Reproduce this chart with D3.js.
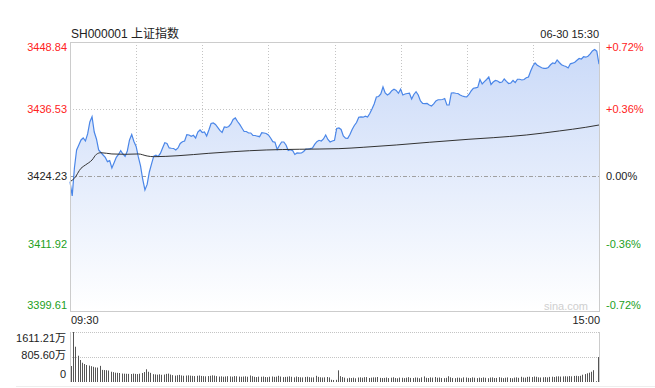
<!DOCTYPE html>
<html>
<head>
<meta charset="utf-8">
<script src="https://cdn.jsdelivr.net/npm/d3@7"></script>
<style>
  body { margin: 0; background: #fff; }
  svg { display: block; font-family: Arial, "Liberation Sans", "Noto Sans CJK SC", sans-serif; }
</style>
</head>
<body>
<div id="chart"></div>
<script>
////////////////////////////////////////////////////////////////////
////////////////////////////  Data  ////////////////////////////////
const symbol = "SH000001 上证指数";
const stamp = "06-30 15:30";
const preClose = 3424.23;
const priceTicks = [3448.84, 3436.53, 3424.23, 3411.92, 3399.61];
const pctTicks = ["+0.72%", "+0.36%", "0.00%", "-0.36%", "-0.72%"];
const timeLabels = ["09:30", "15:00"];
const volTicks = [1611.21, 805.6, 0];
const volTickLabels = ["1611.21万", "805.60万", "0"];

// one price per minute, 09:30 .. 11:30 / 13:00 .. 15:00 (241 points)
const prices = [
  3423.28, 3420.66, 3425.78, 3429.08, 3429.99, 3430.91, 3431.27, 3430.72, 3432.01, 3434.20,
  3435.17, 3432.37, 3431.09, 3429.08, 3428.62, 3428.16, 3427.71, 3426.94, 3427.12, 3425.78,
  3426.75, 3427.74, 3428.26, 3428.95, 3428.35, 3427.89, 3428.90, 3430.91, 3431.92, 3430.63,
  3429.72, 3427.80, 3426.15, 3423.68, 3421.76, 3422.77, 3425.05, 3426.52, 3427.94, 3428.11,
  3427.89, 3428.44, 3429.45, 3430.40, 3430.27, 3429.45, 3429.39, 3429.35, 3429.08, 3429.45,
  3430.27, 3430.60, 3430.72, 3431.88, 3431.82, 3431.59, 3431.77, 3431.27, 3432.37, 3432.74,
  3432.28, 3432.37, 3431.64, 3432.74, 3433.93, 3434.02, 3433.75, 3433.20, 3432.65, 3432.28,
  3433.29, 3433.20, 3433.38, 3433.84, 3434.66, 3434.94, 3434.29, 3433.75, 3433.11, 3432.46,
  3432.46, 3432.19, 3432.19, 3431.73, 3431.73, 3431.60, 3431.51, 3432.25, 3432.19, 3432.10,
  3431.82, 3431.27, 3430.60, 3430.49, 3429.17, 3429.90, 3430.54, 3430.54, 3429.99, 3428.99,
  3429.12, 3428.97, 3428.26, 3428.53, 3428.49, 3428.53, 3428.80, 3429.23, 3429.26, 3429.32,
  3429.45, 3430.09, 3430.60, 3430.85, 3430.72, 3431.09, 3431.82, 3431.00, 3430.54, 3430.72,
  3430.85, 3433.01, 3433.11, 3432.83, 3431.64, 3431.24, 3431.22, 3431.92, 3432.83, 3433.56,
  3434.11, 3435.08, 3435.15, 3435.08, 3435.26, 3435.12, 3435.76, 3436.58, 3437.50, 3438.78,
  3438.87, 3439.33, 3440.61, 3439.51, 3439.14, 3439.42, 3439.93, 3440.19, 3439.97, 3439.46,
  3440.19, 3439.14, 3439.33, 3439.42, 3439.46, 3438.41, 3439.24, 3439.75, 3439.14, 3438.05,
  3437.59, 3437.55, 3437.59, 3437.31, 3437.13, 3437.50, 3438.05, 3438.27, 3438.27, 3438.32,
  3438.50, 3437.31, 3437.31, 3439.51, 3439.55, 3439.46, 3439.42, 3439.14, 3438.96, 3438.83,
  3438.78, 3439.24, 3439.88, 3440.37, 3440.46, 3440.54, 3441.98, 3441.16, 3441.58, 3441.98,
  3442.44, 3441.07, 3441.52, 3441.80, 3441.71, 3441.43, 3441.52, 3442.07, 3441.62, 3441.25,
  3441.34, 3441.80, 3441.40, 3442.02, 3442.02, 3441.89, 3441.98, 3442.31, 3442.44, 3443.54,
  3444.45, 3445.00, 3444.60, 3444.34, 3444.12, 3444.03, 3444.03, 3444.18, 3444.67, 3445.00,
  3444.89, 3445.55, 3445.09, 3444.69, 3444.49, 3444.36, 3444.09, 3444.85, 3444.96, 3445.13,
  3445.49, 3445.82, 3445.73, 3446.14, 3446.06, 3446.23, 3446.65, 3447.20, 3447.45, 3447.16,
  3444.80
];

// average price line, read at sample minutes
const avgMinutes = [0, 2, 5, 7, 10, 12, 14, 19, 25, 31, 35, 38, 49, 63, 74, 89, 104, 122, 133, 148, 163, 181, 192, 207, 222, 234, 240];
const avgPrices = [3423.28, 3423.90, 3425.73, 3426.33, 3427.25, 3428.29, 3428.58, 3428.35, 3428.29, 3428.35, 3427.98, 3427.85, 3428.03, 3428.47, 3428.77, 3429.08, 3429.21, 3429.32, 3429.57, 3429.99, 3430.49, 3431.04, 3431.33, 3431.82, 3432.56, 3433.23, 3433.65];

// volume per minute, 万
const volumes = [
  515, 1611.21, 1137, 847, 709, 620, 580, 548, 530, 510,
  490, 470, 465, 520, 390, 385, 380, 370, 330, 318,
  300, 296, 290, 272, 268, 265, 262, 258, 270, 262,
  255, 268, 290, 320, 410, 330, 295, 252, 245, 236,
  248, 232, 240, 262, 270, 240, 222, 205, 218, 230,
  212, 200, 208, 214, 205, 198, 190, 200, 210, 196,
  188, 182, 190, 200, 215, 205, 188, 176, 182, 170,
  178, 186, 180, 172, 190, 184, 175, 168, 176, 182,
  170, 210, 188, 166, 160, 172, 168, 175, 162, 156,
  170, 178, 165, 172, 200, 176, 158, 164, 170, 182,
  168, 150, 175, 160, 152, 148, 162, 170, 155, 146,
  150, 200, 165, 152, 145, 150, 160, 148, 72, 65,
  70, 376, 188, 160, 140, 118, 135, 128, 140, 120,
  145, 150, 138, 155, 158, 130, 140, 150, 148, 160,
  135, 128, 132, 145, 126, 138, 152, 130, 120, 142,
  136, 125, 140, 155, 132, 128, 145, 140, 120, 150,
  180, 135, 128, 148, 140, 160, 138, 145, 130, 125,
  135, 185, 150, 130, 125, 140, 138, 120, 150, 145,
  132, 128, 150, 138, 125, 140, 130, 148, 135, 122,
  145, 150, 128, 132, 155, 140, 125, 138, 148, 130,
  120, 142, 150, 135, 168, 145, 140, 165, 170, 160,
  175, 168, 150, 145, 152, 158, 148, 165, 170, 160,
  178, 182, 175, 180, 185, 178, 190, 182, 195, 200,
  188, 200, 235, 255, 280, 300, 330, 380, 25, 0,
  805
];

////////////////////////////////////////////////////////////////////
////////////////////////////  Init  ////////////////////////////////
const width = 655;
const height = 388;
const plot = { left: 70, right: 599, top: 42, bottom: 311 };
const vol = { top: 332, bottom: 382 };

const red = "#f22";
const green = "#22a022";
const gridColor = "#c4c4c4";

const svg = d3.select("#chart").append("svg")
  .attr("width", width)
  .attr("height", height);

// scales
const xScale = d3.scaleLinear().domain([0, 240]).range([plot.left, plot.right]);
const yScale = d3.scaleLinear()
  .domain([priceTicks[4], priceTicks[0]])
  .range([plot.bottom, plot.top]);
const vScale = d3.scaleLinear().domain([0, volTicks[0]]).range([vol.bottom, vol.top]);

const colorOf = (v) => (v > preClose ? red : v < preClose ? green : "#222");

// gradient for the area
const grad = svg.append("defs").append("linearGradient")
  .attr("id", "fillGrad")
  .attr("gradientUnits", "userSpaceOnUse")
  .attr("x1", 0).attr("x2", 0)
  .attr("y1", plot.top).attr("y2", plot.bottom);
grad.append("stop").attr("offset", "0%").attr("stop-color", "#c9d9f8");
grad.append("stop").attr("offset", "100%").attr("stop-color", "#ffffff");

////////////////////////////////////////////////////////////////////
////////////////////////////  Grid  ////////////////////////////////
// vertical grid every 30 minutes
const halfHours = d3.range(30, 240, 30);
svg.append("g").selectAll("line")
  .data(halfHours)
  .join("line")
  .attr("x1", (d) => Math.round(xScale(d)) + 0.5)
  .attr("x2", (d) => Math.round(xScale(d)) + 0.5)
  .attr("y1", plot.top)
  .attr("y2", plot.bottom)
  .attr("stroke", gridColor)
  .attr("stroke-dasharray", "1,2");

// horizontal grid
svg.append("g").selectAll("line")
  .data([priceTicks[1], priceTicks[3]])
  .join("line")
  .attr("x1", plot.left)
  .attr("x2", plot.right)
  .attr("y1", (d) => Math.round(yScale(d)) + 0.5)
  .attr("y2", (d) => Math.round(yScale(d)) + 0.5)
  .attr("stroke", gridColor)
  .attr("stroke-dasharray", "1,2");

////////////////////////////////////////////////////////////////////
////////////////////////////  Marks  ///////////////////////////////
const area = d3.area()
  .x((d, i) => xScale(i))
  .y0(plot.bottom)
  .y1((d) => yScale(d));

const line = d3.line()
  .x((d, i) => xScale(i))
  .y((d) => yScale(d));

svg.append("path")
  .datum(prices)
  .attr("fill", "url(#fillGrad)")
  .attr("d", area);

// pre-close line above the fill
svg.append("line")
  .attr("x1", plot.left)
  .attr("x2", plot.right)
  .attr("y1", Math.round(yScale(preClose)) + 0.5)
  .attr("y2", Math.round(yScale(preClose)) + 0.5)
  .attr("stroke", "#a0a0a0")
  .attr("stroke-dasharray", "4,2,1,2");

svg.append("path")
  .datum(prices)
  .attr("fill", "none")
  .attr("stroke", "#4a86e8")
  .attr("stroke-width", 1.2)
  .attr("d", line);

const avgLine = d3.line()
  .curve(d3.curveMonotoneX)
  .x((d, i) => xScale(avgMinutes[i]))
  .y((d) => yScale(d));

svg.append("path")
  .datum(avgPrices)
  .attr("fill", "none")
  .attr("stroke", "#333")
  .attr("stroke-width", 1)
  .attr("d", avgLine);

// frame
svg.append("rect")
  .attr("x", plot.left + 0.5)
  .attr("y", plot.top + 0.5)
  .attr("width", plot.right - plot.left)
  .attr("height", plot.bottom - plot.top)
  .attr("fill", "none")
  .attr("stroke", "#ccc");

////////////////////////////////////////////////////////////////////
////////////////////////////  Labels  //////////////////////////////
svg.append("text")
  .attr("x", plot.left + 1)
  .attr("y", 38)
  .attr("font-size", 12)
  .attr("fill", "#222")
  .text(symbol);

svg.append("text")
  .attr("x", plot.right)
  .attr("y", 38)
  .attr("text-anchor", "end")
  .attr("font-size", 11)
  .attr("fill", "#222")
  .text(stamp);

const labelY = (v) => Math.min(Math.max(yScale(v), plot.top + 5), plot.bottom - 5.5);

svg.append("g").selectAll("text")
  .data(priceTicks)
  .join("text")
  .attr("x", plot.left - 3)
  .attr("y", (d) => labelY(d))
  .attr("dy", "0.35em")
  .attr("text-anchor", "end")
  .attr("font-size", 11)
  .attr("fill", colorOf)
  .text((d) => d.toFixed(2));

svg.append("g").selectAll("text")
  .data(priceTicks)
  .join("text")
  .attr("x", plot.right + 7)
  .attr("y", (d) => labelY(d))
  .attr("dy", "0.35em")
  .attr("font-size", 11)
  .attr("fill", colorOf)
  .text((d, i) => pctTicks[i]);

svg.append("text")
  .attr("x", plot.left + 1)
  .attr("y", plot.bottom + 9)
  .attr("dy", "0.35em")
  .attr("font-size", 11)
  .attr("fill", "#222")
  .text(timeLabels[0]);

svg.append("text")
  .attr("x", plot.right + 1)
  .attr("y", plot.bottom + 9)
  .attr("dy", "0.35em")
  .attr("text-anchor", "end")
  .attr("font-size", 11)
  .attr("fill", "#222")
  .text(timeLabels[1]);

svg.append("text")
  .attr("x", plot.right - 11)
  .attr("y", plot.bottom - 5)
  .attr("dy", "0.35em")
  .attr("text-anchor", "end")
  .attr("font-size", 11)
  .attr("fill", "#cfcfcf")
  .text("sina.com");

////////////////////////////////////////////////////////////////////
////////////////////////////  Volume  //////////////////////////////
svg.append("g").selectAll("line")
  .data(volTicks.slice(0, 2))
  .join("line")
  .attr("x1", plot.left)
  .attr("x2", plot.right)
  .attr("y1", (d) => Math.round(vScale(d)) + 0.5)
  .attr("y2", (d) => Math.round(vScale(d)) + 0.5)
  .attr("stroke", gridColor)
  .attr("stroke-dasharray", "1,1");

svg.append("g").selectAll("rect")
  .data(volumes)
  .join("rect")
  .attr("x", (d, i) => Math.min(Math.round(xScale(i)) + 1, plot.right - 1))
  .attr("y", (d) => vScale(d))
  .attr("width", 1)
  .attr("height", (d) => vol.bottom - vScale(d))
  .attr("fill", "#555");

// side borders of the volume panel
svg.append("g").selectAll("line")
  .data([plot.left, plot.right])
  .join("line")
  .attr("x1", (d) => d + 0.5)
  .attr("x2", (d) => d + 0.5)
  .attr("y1", vol.top)
  .attr("y2", vol.bottom)
  .attr("stroke", "#ccc");

svg.append("line")
  .attr("x1", 16)
  .attr("x2", width)
  .attr("y1", 386.5)
  .attr("y2", 386.5)
  .attr("stroke", "#eee");

const volLabelY = [vol.top + 6.5, vScale(volTicks[1]) - 1.5, vol.bottom - 8];
svg.append("g").selectAll("text")
  .data(volTickLabels)
  .join("text")
  .attr("x", plot.left - 4)
  .attr("y", (d, i) => volLabelY[i])
  .attr("dy", "0.35em")
  .attr("text-anchor", "end")
  .attr("font-size", 11)
  .attr("fill", "#222")
  .text((d) => d);
</script>
</body>
</html>
